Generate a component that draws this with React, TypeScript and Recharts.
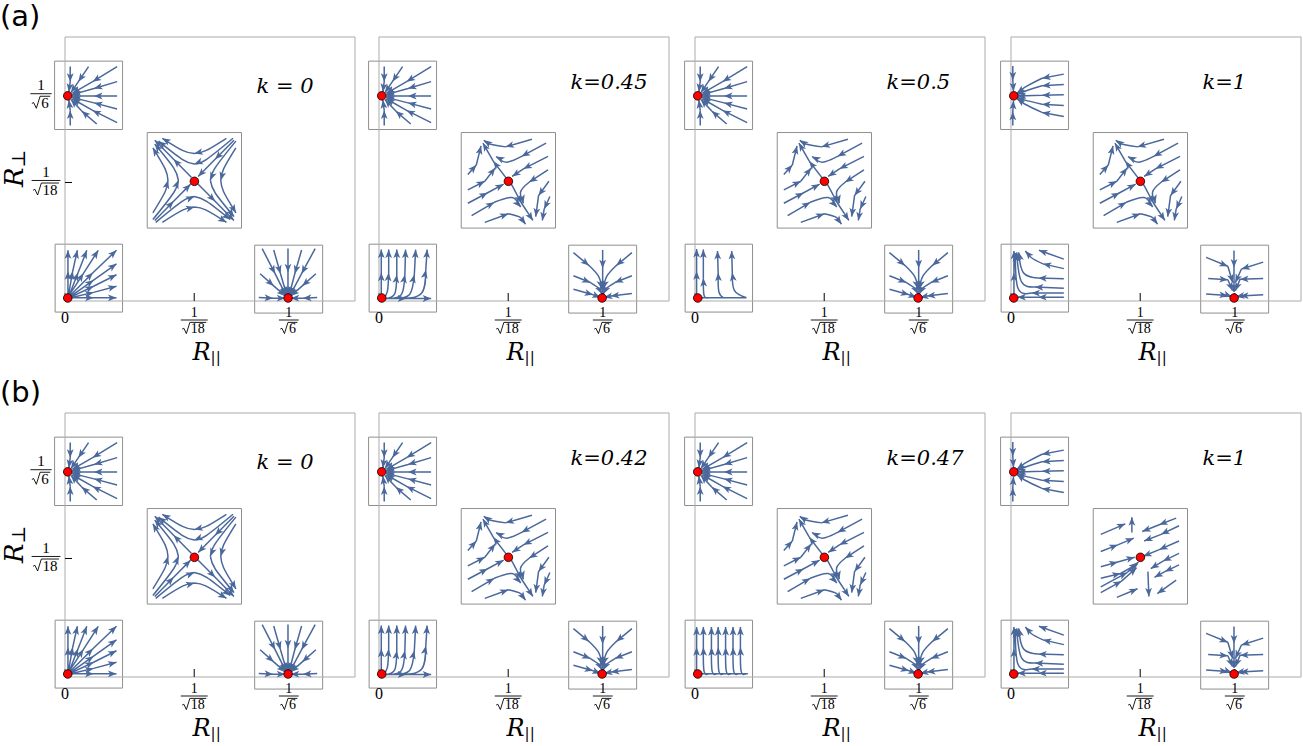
import React from 'react'
import { ComposedChart, Line, XAxis, YAxis, ReferenceArea, ReferenceDot } from 'recharts'

type Pt = [number, number]
type Piece = Pt[]
interface Pattern {
  arrows: Piece[]
  tracks?: Piece[]
}

// ── layout of the 2 x 4 grid of frames ─────────────────────────
const FRAME_LEFT = [64.5, 378.5, 694.5, 1010.5]
const FRAME_TOP = [36.5, 412.5]
const FRAME_W = 290
const FRAME_H = 264
const PAD_L = 60
const PAD_R = 6
const PAD_T = 6
const PAD_B = 40

const X_DOMAIN = [0, 0.529]
const Y_DOMAIN = [0, 0.525]

const ARROW = '#4a689b'
const FRAME = '#ababab'
const BOXLINE = '#8f8f8f'
const SERIF = '"Liberation Serif", "DejaVu Serif", serif'
const MATH = '"DejaVu Serif", serif'

// ── ticks ──────────────────────────────────────────────────────
const X_TICKS = [0, 1 / Math.sqrt(18), 1 / Math.sqrt(6)]
const X_TICK_DEN = ['', '18', '6']
const Y_TICKS = [1 / Math.sqrt(18), 1 / Math.sqrt(6)]
const Y_TICK_DEN = ['18', '6']
const Y_TICK_DX = [19, 24]

const K_LABELS = [
  ['k = 0', 'k=0.45', 'k=0.5', 'k=1'],
  ['k = 0', 'k=0.42', 'k=0.47', 'k=1'],
]

// ── fixed points (R||, R⊥) ─────────────────────────────────────
const FIXED_X = [0.005, 0.236, 0.005, 0.407]
const FIXED_Y = [0.408, 0.238, 0.006, 0.006]

// inset boxes [x0, x1, y0, y1] in data units
const BOX_TL = [-0.019, 0.105, 0.341, 0.477]
const BOX_C = [0.15, 0.322, 0.145, 0.335]
const BOX_BL = [-0.018, 0.105, -0.022, 0.113]
const BOX_BR = [0.346, 0.47, -0.024, 0.111]

// ── stream pieces, in percent of the inset box (u right, v up) ─
const TL_A: Pattern = {
  arrows: [
    [[23, 92], [23, 70]], [[23, 70], [21, 55]],
    [[50, 92], [35, 70]], [[35, 70], [24, 54]],
    [[92, 92], [56, 70]], [[56, 70], [26, 53]],
    [[92, 70], [58, 60]], [[58, 60], [26, 51]],
    [[92, 49], [58, 49]], [[58, 49], [26, 49]],
    [[92, 30], [58, 39]], [[58, 39], [26, 47]],
    [[92, 10], [56, 28]], [[56, 28], [26, 45]],
    [[62, 8], [40, 27]], [[40, 27], [24, 44]],
    [[23, 6], [23, 28]], [[23, 28], [21, 43]],
  ],
}

const TL_B: Pattern = {
  arrows: [
    [[93, 81], [61, 75]], [[61, 75], [36, 62], [24, 53]],
    [[93, 66], [61, 64]], [[61, 64], [36, 56], [24, 51]],
    [[93, 51], [61, 50]], [[61, 50], [25, 49]],
    [[93, 35], [61, 37]], [[61, 37], [36, 43], [24, 47]],
    [[93, 19], [61, 25]], [[61, 25], [36, 37], [24, 45]],
    [[18, 93], [18, 72]], [[18, 72], [19, 56]],
    [[18, 6], [18, 26]], [[18, 26], [19, 42]],
  ],
}

const C0: Pattern = {
  arrows: [
    [[6, 16], [19, 38], [22, 50]], [[22, 50], [19, 62], [6, 84]],
    [[6, 9], [28, 37], [33, 50]], [[33, 50], [28, 63], [8, 88]],
    [[84, 94], [62, 81], [50, 78]], [[50, 78], [38, 81], [16, 94]],
    [[91, 94], [63, 72], [50, 67]], [[50, 67], [37, 72], [12, 91]],
    [[94, 84], [81, 62], [78, 50]], [[78, 50], [81, 38], [94, 16]],
    [[94, 91], [72, 63], [67, 50]], [[67, 50], [72, 37], [92, 12]],
    [[16, 6], [38, 19], [50, 22]], [[50, 22], [62, 19], [84, 6]],
    [[9, 6], [37, 28], [50, 33]], [[50, 33], [63, 28], [88, 9]],
    [[8, 8], [28, 28]], [[28, 28], [46, 46]],
    [[92, 92], [72, 72]], [[72, 72], [54, 54]],
    [[53, 47], [72, 28]], [[72, 28], [92, 8]],
    [[47, 53], [28, 72]], [[28, 72], [8, 92]],
  ],
}

const C1: Pattern = {
  arrows: [
    [[48, 52], [34, 70]], [[34, 70], [23, 89]],
    [[52, 48], [64, 26]], [[64, 26], [76, 8]],
    [[7, 56], [16, 66]], [[16, 66], [21, 86]],
    [[7, 40], [25, 49]], [[25, 49], [36, 63]],
    [[7, 26], [28, 37]], [[28, 37], [45, 46]],
    [[11, 13], [35, 27]], [[35, 27], [54, 32], [63, 22]],
    [[25, 6], [50, 15]], [[50, 15], [63, 11], [68, 4]],
    [[75, 93], [47, 85]], [[47, 85], [30, 88], [24, 92]],
    [[90, 89], [64, 75]], [[64, 75], [48, 69], [37, 75]],
    [[92, 75], [66, 62]], [[66, 62], [54, 54]],
    [[92, 61], [72, 48]], [[72, 48], [63, 38], [66, 26]],
    [[93, 49], [82, 34]], [[82, 34], [79, 12]],
    [[94, 33], [88, 20]], [[88, 20], [86, 8]],
  ],
}

const C2: Pattern = {
  arrows: [
    [[8, 73], [34, 84]],
    [[41, 75], [41, 91]],
    [[8, 55], [26, 62]], [[26, 62], [43, 69]],
    [[8, 39], [26, 44]], [[26, 44], [44, 49]],
    [[8, 27], [29, 32]], [[29, 32], [47, 42]],
    [[8, 18], [36, 33]], [[36, 33], [48, 44]],
    [[8, 12], [30, 24]], [[30, 24], [46, 38]],
    [[25, 7], [47, 16]],
    [[88, 90], [70, 83]], [[70, 83], [52, 76]],
    [[91, 82], [72, 73]], [[72, 73], [54, 66]],
    [[91, 66], [70, 57]], [[70, 57], [53, 50]],
    [[91, 53], [74, 45]], [[74, 45], [61, 37]],
    [[91, 41], [76, 34]], [[76, 34], [65, 28]],
    [[88, 25], [68, 11]],
    [[58, 34], [59, 8]],
  ],
}

const BL0: Pattern = {
  arrows: [
    [[19, 26], [19, 60]], [[19, 60], [19, 91]],
    [[20, 26], [26, 60]], [[26, 60], [33, 91]],
    [[21, 25], [34, 58]], [[34, 58], [47, 91]],
    [[21, 25], [42, 57]], [[42, 57], [64, 91]],
    [[22, 24], [56, 58]], [[56, 58], [91, 91]],
    [[23, 23], [57, 47]], [[57, 47], [91, 71]],
    [[23, 22], [57, 38]], [[57, 38], [91, 55]],
    [[23, 21], [57, 29]], [[57, 29], [91, 38]],
    [[23, 21], [57, 21]], [[57, 21], [91, 21]],
  ],
}

const BL1: Pattern = {
  arrows: [
    [[18, 25], [18, 58]], [[18, 58], [18, 92]],
    [[21, 21], [27, 30], [29, 58]], [[29, 58], [29, 92]],
    [[25, 20], [38, 27], [41, 55]], [[41, 55], [41, 92]],
    [[30, 20], [48, 26], [53, 55]], [[53, 55], [54, 92]],
    [[38, 20], [60, 26], [67, 55]], [[67, 55], [69, 92]],
    [[50, 20], [78, 28], [84, 62]], [[84, 62], [86, 92]],
    [[22, 20], [55, 20]], [[55, 20], [92, 20]],
  ],
}

const BL2: Pattern = {
  arrows: [
    [[17, 26], [17, 60]], [[17, 60], [17, 93]],
    [[34, 21], [28, 25], [27, 50]], [[27, 50], [27, 92]],
    [[57, 21], [50, 30], [49, 58]], [[49, 58], [48, 90]],
    [[91, 21], [73, 32], [70, 58]], [[70, 58], [69, 90]],
  ],
  tracks: [[[20, 21], [91, 21]]],
}

const BL3: Pattern = {
  arrows: [
    [[17, 25], [17, 60]], [[17, 60], [17, 90]],
    [[35, 21], [28, 25], [27, 60]], [[27, 60], [27, 90]],
    [[47, 21], [40, 25], [39, 60]], [[39, 60], [39, 90]],
    [[57, 21], [50, 25], [49, 60]], [[49, 60], [49, 90]],
    [[68, 21], [61, 25], [60, 60]], [[60, 60], [60, 90]],
    [[79, 21], [72, 25], [71, 60]], [[71, 60], [71, 90]],
    [[90, 21], [83, 25], [82, 60]], [[82, 60], [82, 90]],
  ],
  tracks: [[[20, 21], [93, 21]]],
}

const BL4: Pattern = {
  arrows: [
    [[93, 78], [56, 91]],
    [[93, 64], [62, 71]], [[62, 71], [45, 80], [36, 90]],
    [[93, 49], [55, 50]], [[55, 50], [33, 58], [26, 88]],
    [[93, 35], [50, 37]], [[50, 37], [30, 45], [23, 88]],
    [[93, 28], [45, 28]], [[45, 28], [25, 35], [21, 87]],
    [[93, 22], [55, 22]], [[55, 22], [24, 22]],
    [[19, 26], [19, 58]], [[19, 58], [19, 90]],
  ],
}

const BR0: Pattern = {
  arrows: [
    [[11, 95], [30, 58]], [[30, 58], [46, 26]],
    [[28, 93], [38, 58]], [[38, 58], [47, 27]],
    [[49, 95], [49, 60]], [[49, 60], [49, 27]],
    [[69, 93], [59, 58]], [[59, 58], [51, 27]],
    [[89, 95], [69, 58]], [[69, 58], [52, 26]],
    [[8, 58], [28, 40]], [[28, 40], [45, 25]],
    [[90, 58], [70, 40]], [[70, 40], [53, 25]],
    [[6, 23], [27, 22]], [[27, 22], [45, 22]],
    [[92, 23], [71, 22]], [[71, 22], [53, 22]],
  ],
}

const BR1: Pattern = {
  arrows: [
    [[50, 93], [50, 66]], [[50, 66], [50, 30]],
    [[7, 89], [30, 70]], [[30, 70], [44, 54], [49, 36]],
    [[93, 89], [70, 70]], [[70, 70], [56, 54], [51, 36]],
    [[7, 55], [32, 45]], [[32, 45], [45, 36], [49, 28]],
    [[93, 55], [68, 45]], [[68, 45], [55, 36], [51, 28]],
    [[7, 35], [36, 27]], [[36, 27], [47, 23]],
    [[93, 29], [62, 25]], [[62, 25], [52, 23]],
  ],
}

const BR2: Pattern = {
  arrows: [
    [[49, 92], [49, 67]], [[49, 67], [49, 31]],
    [[8, 82], [40, 69]], [[40, 69], [47, 45]],
    [[92, 75], [60, 65]], [[60, 65], [51, 45]],
    [[11, 51], [40, 49]], [[40, 49], [47, 33]],
    [[92, 51], [58, 50]], [[58, 50], [51, 33]],
    [[8, 28], [40, 26]], [[40, 26], [46, 24]],
    [[92, 27], [58, 25]], [[58, 25], [52, 24]],
  ],
}

// which portrait goes in which panel, row (a) then row (b)
const TL_USE = [[TL_A, TL_A, TL_A, TL_B], [TL_A, TL_A, TL_A, TL_B]]
const C_USE = [[C0, C1, C1, C1], [C0, C1, C1, C2]]
const BL_USE = [[BL0, BL1, BL2, BL4], [BL0, BL1, BL3, BL4]]
const BR_USE = [[BR0, BR1, BR1, BR2], [BR0, BR1, BR1, BR2]]

interface StreamRow {
  x: number | null
  y: number | null
  h: boolean
}

function buildRows(box: number[], pat: Pattern): StreamRow[] {
  const [x0, x1, y0, y1] = box
  const rows: StreamRow[] = []
  const add = (p: Piece, head: boolean) => {
    p.forEach(([u, v], i) =>
      rows.push({
        x: x0 + ((x1 - x0) * u) / 100,
        y: y0 + ((y1 - y0) * v) / 100,
        h: head && i === p.length - 1,
      }),
    )
    rows.push({ x: null, y: null, h: false })
  }
  ;(pat.tracks ?? []).forEach((p) => add(p, false))
  pat.arrows.forEach((p) => add(p, true))
  return rows
}

// arrowhead drawn at the end of each piece, pointing along its last leg
function Head(props: any) {
  const { cx, cy, payload, index, points } = props
  if (!payload || !payload.h || cx == null || cy == null) return <g key={`h-${index}`} />
  const prev = points ? points[index - 1] : null
  let a = 0
  if (prev && prev.y != null) a = (Math.atan2(cy - prev.y, cx - prev.x) * 180) / Math.PI
  return (
    <polygon
      key={`h-${index}`}
      points="0,0 -8.5,-3.4 -6.4,0 -8.5,3.4"
      transform={`translate(${cx},${cy}) rotate(${a})`}
      fill={ARROW}
    />
  )
}

function Frac({ cx, bar, den, fs }: { cx: number; bar: number; den: string; fs: number }) {
  const rw = 0.62 * fs
  const dw = den.length * 0.5 * fs
  const total = rw + dw + 0.1 * fs
  const sx = cx - total / 2
  const by = bar + 0.95 * fs
  const top = bar + 0.17 * fs
  return (
    <g>
      <text x={cx} y={bar - 0.22 * fs} textAnchor="middle" fontFamily={SERIF} fontSize={fs} fill="#000">
        1
      </text>
      <line x1={sx - 0.1 * fs} x2={sx + total + 0.1 * fs} y1={bar} y2={bar} stroke="#000" strokeWidth={0.9} />
      <path
        d={`M${sx},${by - 0.3 * fs} L${sx + 0.12 * fs},${by - 0.36 * fs} L${sx + 0.3 * fs},${by + 0.02 * fs} L${sx + 0.55 * fs},${top} L${sx + total},${top}`}
        fill="none"
        stroke="#000"
        strokeWidth={0.9}
      />
      <text x={sx + rw} y={by} fontFamily={SERIF} fontSize={fs} fill="#000">
        {den}
      </text>
    </g>
  )
}

function BottomTick(props: any) {
  const { x, y, index } = props
  if (index === 0)
    return (
      <text x={x} y={y + 22} textAnchor="middle" fontFamily={SERIF} fontSize={16} fill="#000">
        0
      </text>
    )
  return <Frac cx={x} bar={y + 19} den={X_TICK_DEN[index]} fs={14} />
}

function LeftTick(props: any) {
  const { x, y, index } = props
  return <Frac cx={x - Y_TICK_DX[index]} bar={y - 2} den={Y_TICK_DEN[index]} fs={15} />
}

function Panel({ r, c }: { r: number; c: number }) {
  const insets: [number[], Pattern][] = [
    [BOX_TL, TL_USE[r][c]],
    [BOX_C, C_USE[r][c]],
    [BOX_BL, BL_USE[r][c]],
    [BOX_BR, BR_USE[r][c]],
  ]
  return (
    <div style={{ position: 'absolute', left: FRAME_LEFT[c] - PAD_L, top: FRAME_TOP[r] - PAD_T }}>
      <ComposedChart
        width={PAD_L + FRAME_W + PAD_R}
        height={PAD_T + FRAME_H + PAD_B}
        margin={{ top: 0, right: 0, bottom: 0, left: 0 }}
      >
        <XAxis
          xAxisId="b"
          type="number"
          dataKey="x"
          orientation="bottom"
          domain={X_DOMAIN}
          ticks={X_TICKS}
          interval={0}
          height={PAD_B}
          tickSize={-8}
          tickMargin={8}
          axisLine={{ stroke: FRAME }}
          tickLine={{ stroke: '#000' }}
          tick={(p: any) => <BottomTick {...p} />}
        />
        <XAxis
          xAxisId="t"
          type="number"
          dataKey="x"
          orientation="top"
          domain={X_DOMAIN}
          ticks={X_TICKS}
          interval={0}
          height={PAD_T}
          tickSize={-7}
          axisLine={{ stroke: FRAME }}
          tickLine={{ stroke: '#000' }}
          tick={false}
        />
        <YAxis
          yAxisId="l"
          type="number"
          orientation="left"
          domain={Y_DOMAIN}
          ticks={Y_TICKS}
          interval={0}
          width={PAD_L}
          tickSize={-7}
          tickMargin={7}
          axisLine={{ stroke: FRAME }}
          tickLine={{ stroke: '#000' }}
          tick={c === 0 ? (p: any) => <LeftTick {...p} /> : false}
        />
        <YAxis
          yAxisId="r"
          type="number"
          orientation="right"
          domain={Y_DOMAIN}
          ticks={Y_TICKS}
          interval={0}
          width={PAD_R}
          tickSize={-7}
          axisLine={{ stroke: FRAME }}
          tickLine={{ stroke: '#000' }}
          tick={false}
        />
        {insets.map(([box], i) => (
          <ReferenceArea
            key={`box-${i}`}
            xAxisId="b"
            yAxisId="l"
            x1={box[0]}
            x2={box[1]}
            y1={box[2]}
            y2={box[3]}
            fill="#fff"
            fillOpacity={1}
            stroke={BOXLINE}
            strokeWidth={1}
            ifOverflow="visible"
          />
        ))}
        {insets.map(([box, pat], i) => (
          <Line
            key={`stream-${i}`}
            xAxisId="b"
            yAxisId="l"
            data={buildRows(box, pat)}
            dataKey="y"
            type="natural"
            stroke={ARROW}
            strokeWidth={1.5}
            dot={Head}
            activeDot={false}
            connectNulls={false}
            isAnimationActive={false}
          />
        ))}
        {FIXED_X.map((fx, i) => (
          <ReferenceDot
            key={`fp-${i}`}
            xAxisId="b"
            yAxisId="l"
            x={fx}
            y={FIXED_Y[i]}
            r={4.3}
            fill="#ff0000"
            stroke="#000"
            strokeWidth={0.8}
            ifOverflow="visible"
          />
        ))}
      </ComposedChart>
    </div>
  )
}

export default function App() {
  return (
    <div style={{ position: 'absolute', left: 0, top: 0, width: 1303, height: 746, background: '#fff', overflow: 'hidden' }}>
      {FRAME_TOP.map((_, r) => FRAME_LEFT.map((__, c) => <Panel key={`${r}-${c}`} r={r} c={c} />))}
      <svg
        width={1303}
        height={746}
        style={{ position: 'absolute', left: 0, top: 0, pointerEvents: 'none' }}
      >
        <text x={0} y={26} fontFamily='"DejaVu Sans", sans-serif' fontSize={29} fill="#000">
          (a)
        </text>
        <text x={0} y={402} fontFamily='"DejaVu Sans", sans-serif' fontSize={29} fill="#000">
          (b)
        </text>
        {FRAME_TOP.map((t, r) => (
          <text
            key={`rp-${r}`}
            transform={`translate(23,${t + 150.5}) rotate(-90)`}
            fontFamily={MATH}
            fontStyle="italic"
            fontSize={26}
            fill="#000"
          >
            R
            <tspan fontStyle="normal" fontSize={19} dy={2}>
              ⊥
            </tspan>
          </text>
        ))}
        {FRAME_TOP.map((t, r) =>
          FRAME_LEFT.map((l, c) => (
            <g key={`lab-${r}-${c}`}>
              <text x={l + 128} y={t + 323.5} fontFamily={MATH} fontStyle="italic" fontSize={24} fill="#000">
                R
                <tspan fontStyle="normal" fontSize={15} dy={2}>
                  ||
                </tspan>
              </text>
              <text
                x={l + 192}
                y={t + (K_LABELS[r][c] === 'k = 0' ? 56.5 : 52)}
                fontFamily={MATH}
                fontStyle="italic"
                fontSize={21}
                fill="#000"
              >
                {K_LABELS[r][c]}
              </text>
            </g>
          )),
        )}
      </svg>
    </div>
  )
}
